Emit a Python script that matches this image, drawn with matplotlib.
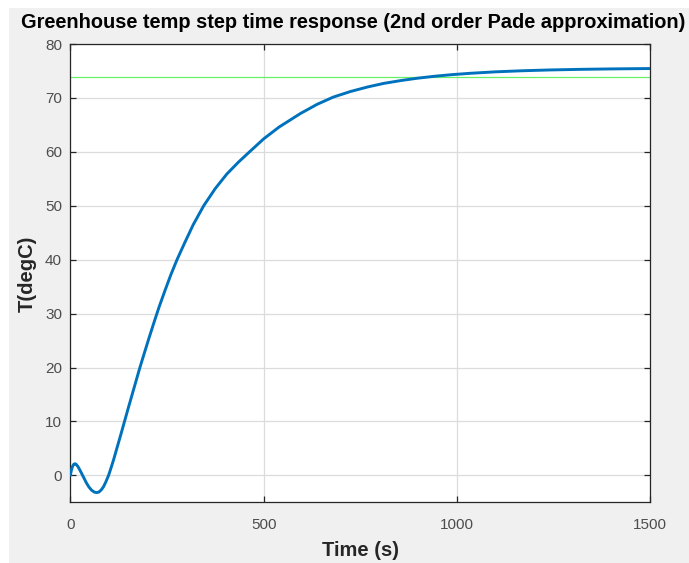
import matplotlib
matplotlib.use("Agg")
import matplotlib.pyplot as plt
from matplotlib.patches import Rectangle

plt.rcParams['font.family'] = ['Liberation Sans', 'DejaVu Sans']

# Data
time_s = [0, 3, 6, 9, 12, 15, 20, 25, 30, 36, 42, 48, 55, 62, 68, 74, 80, 86, 92,
          99, 105, 112, 120, 130, 140, 150, 160, 170, 180, 192, 205, 218, 230,
          245, 260, 276, 295, 318, 345, 375, 405, 435, 462, 500, 540, 595, 638,
          680, 725, 770, 811, 855, 897, 940, 984, 1035, 1100, 1170, 1242, 1320,
          1400, 1500]
temp_c = [0.0, 1.0, 1.7, 2.05, 2.15, 2.05, 1.6, 0.95, 0.25, -0.6, -1.45, -2.15,
          -2.75, -3.1, -3.2, -3.1, -2.7, -2.1, -1.2, 0.0, 1.3, 2.9, 4.9, 7.4,
          9.95, 12.5, 15.0, 17.5, 20.0, 22.8, 25.8, 28.7, 31.3, 34.3, 37.2, 40.0,
          43.0, 46.5, 50.0, 53.2, 55.9, 58.1, 59.9, 62.4, 64.6, 67.1, 68.8, 70.15,
          71.2, 72.05, 72.7, 73.22, 73.65, 74.0, 74.3, 74.57, 74.84, 75.04, 75.19,
          75.3, 75.38, 75.45]
settle_level = 73.85
x_ticks = [0, 500, 1000, 1500]
y_ticks = [0, 10, 20, 30, 40, 50, 60, 70, 80]

W, H = 689, 563
fig = plt.figure(figsize=(W / 100, H / 100), dpi=100, facecolor='white')
fig.patches.append(Rectangle((9 / W, 0), 1 - 9 / W, 1 - 7 / H - 1 / H,
                             transform=fig.transFigure, facecolor='#f0f0f0',
                             edgecolor='none', zorder=-10))

ax = fig.add_axes([70.3 / W, (H - 502.3) / H, 580 / W, (502.3 - 44) / H])
ax.set_facecolor('white')
ax.plot(time_s, temp_c, color='#0072BD', lw=2.1, zorder=3,
        solid_joinstyle='round', solid_capstyle='round')
ax.axhline(settle_level, color='#66f066', lw=0.9, zorder=2)

ax.set_xlim(0, 1500)
ax.set_ylim(-5, 80)
ax.set_xticks(x_ticks)
ax.set_yticks(y_ticks)
ax.grid(True, color='#dcdcdc', lw=0.9)
ax.set_axisbelow(True)
ax.tick_params(direction='in', length=4, width=0.9, color='#262626',
               labelsize=11, labelcolor='#4d4d4d', top=True, right=True)
ax.tick_params(axis='x', pad=11)
ax.tick_params(axis='y', pad=6)
for s in ax.spines.values():
    s.set_color('#262626')
    s.set_linewidth(0.9)

fig.text(353 / W, 1 - 22 / H,
         'Greenhouse temp step time response (2nd order Pade approximation)',
         ha='center', va='center', fontsize=14.4, fontweight='bold', color='#000000')
fig.text(361 / W, 1 - 550 / H, 'Time (s)', ha='center', va='center',
         fontsize=14.5, fontweight='bold', color='#262626')
fig.text(27 / W, 1 - 274 / H, 'T(degC)', ha='center', va='center', rotation=90,
         fontsize=14.5, fontweight='bold', color='#262626')

fig.savefig('out.png', dpi=100, facecolor='white')
